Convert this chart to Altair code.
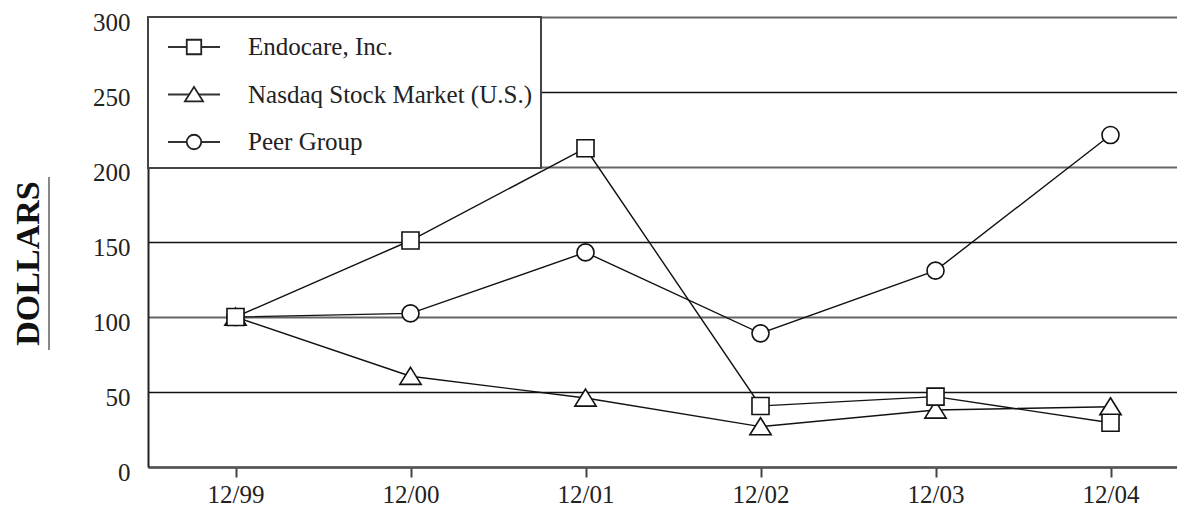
import altair as alt
import pandas as pd

periods = ["12/99", "12/00", "12/01", "12/02", "12/03", "12/04"]
series_names = ["Endocare, Inc.", "Nasdaq Stock Market (U.S.)", "Peer Group"]
endocare = [100, 151, 212.5, 40.7, 46.9, 29.5]
nasdaq = [100, 60.5, 46, 26.9, 38, 40.2]
peer = [100, 102.4, 143.1, 89.1, 130.9, 221.3]
y_ticks = [0, 50, 100, 150, 200, 250, 300]

rows = []
for name, vals in zip(series_names, [endocare, nasdaq, peer]):
    for i, (p, v) in enumerate(zip(periods, vals)):
        rows.append({"series": name, "idx": i, "period": p, "value": v})
df = pd.DataFrame(rows)
# draw Endocare markers last so its square sits on top at 12/99
df_points = df.iloc[::-1].reset_index(drop=True)
df_legend = pd.DataFrame({"series": series_names})

label_expr = "[" + ",".join(f"'{p}'" for p in periods) + "][datum.value]"

FONT = "Liberation Serif"
FS = 25
PLOT_W = 1029
PLOT_H = 450
STEP = 175.0
x_domain = [-0.5, -0.5 + PLOT_W / STEP]

x_enc = alt.X(
    "idx:Q",
    scale=alt.Scale(domain=x_domain, nice=False, zero=False),
    axis=alt.Axis(
        values=list(range(len(periods))),
        labelExpr=label_expr,
        title=None,
        grid=False,
        labelFont=FONT,
        labelFontSize=FS,
        labelColor="#222",
        labelPadding=5,
        labelBaseline="top",
        tickSize=10,
        tickWidth=2,
        tickColor="#444",
        domainColor="#555",
        domainWidth=2.5,
    ),
)
y_enc = alt.Y(
    "value:Q",
    scale=alt.Scale(domain=[0, 300], nice=False),
    axis=alt.Axis(
        values=y_ticks,
        title="DOLLARS",
        titleFont=FONT,
        titleFontSize=34,
        titleFontWeight="bold",
        titleColor="#111",
        titleAngle=270,
        titleAlign="center",
        titleBaseline="alphabetic",
        titleX=-110,
        titleY=246,
        grid=True,
        gridColor={"condition": {"test": "datum.value % 100 === 0", "value": "#666"}, "value": "#111"},
        gridWidth={"condition": {"test": "datum.value % 100 === 0", "value": 2.2}, "value": 1.3},
        ticks=False,
        labelFont=FONT,
        labelFontSize=FS,
        labelColor="#222",
        labelPadding=18,
        labelBaseline="middle",
        labelOffset=5,
        domainColor="#222",
        domainWidth=2,
    ),
)

shape_scale = alt.Scale(
    domain=series_names,
    range=["square", "M0,-1.05L1.25,0.95L-1.25,0.95Z", "circle"],
)

box = alt.Chart(pd.DataFrame({"k": [0]})).mark_rect(
    fill="white", stroke="#444", strokeWidth=2
).encode(x=alt.value(0), x2=alt.value(393), y=alt.value(0), y2=alt.value(151))

lines = alt.Chart(df).mark_line(color="#111", strokeWidth=1.4).encode(
    x=x_enc, y=y_enc, detail="series:N"
)

points = alt.Chart(df_points).mark_point(
    filled=True, fill="white", stroke="#111", strokeWidth=1.6, size=290, opacity=1
).encode(
    x=x_enc,
    y=y_enc,
    shape=alt.Shape("series:N", scale=shape_scale, legend=None),
    order=alt.Order("idx:Q"),
)

main = alt.layer(box, lines, points)

leg_y = alt.Y(
    "series:N",
    scale=alt.Scale(type="point", domain=series_names, range=[30, 125], padding=0),
    axis=None,
)

leg_rules = alt.Chart(df_legend).mark_rule(color="#333", strokeWidth=2).encode(
    x=alt.value(20), x2=alt.value(72), y=leg_y
)
leg_points = alt.Chart(df_legend).mark_point(
    filled=True, fill="white", stroke="#222", strokeWidth=1.8, size=210, opacity=1
).encode(
    x=alt.value(46),
    y=leg_y,
    shape=alt.Shape("series:N", scale=shape_scale, legend=None),
)
leg_text = alt.Chart(df_legend).mark_text(
    align="left", baseline="middle", font=FONT, fontSize=FS, color="#222"
).encode(x=alt.value(100), y=leg_y, text="series:N")

legend = alt.layer(leg_rules, leg_points, leg_text)

underline = alt.Chart(pd.DataFrame({"k": [0]})).mark_rule(
    color="#888", strokeWidth=2
).encode(x=alt.value(-99), y=alt.value(160), y2=alt.value(333))

chart = (
    alt.layer(main, legend, underline)
    .resolve_scale(y="independent")
    .properties(
        width=PLOT_W,
        height=PLOT_H,
        autosize=alt.AutoSizeParams(type="none"),
        padding={"left": 140, "top": 9, "right": 0, "bottom": 40},
        background="white",
    )
    .configure_view(stroke=None)
)

chart.save("out.html", embed_options={"renderer": "svg", "actions": False})
